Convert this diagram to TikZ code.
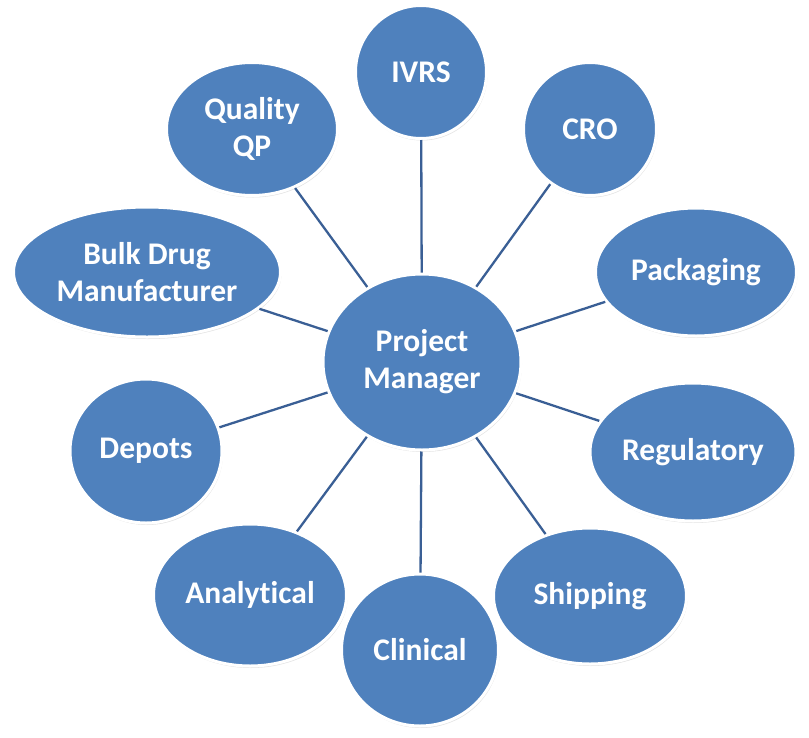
\documentclass[tikz,border=0pt]{standalone}
\usepackage{fontspec}
\setmainfont{Carlito}[Ligatures=NoCommon]
\usepackage{tikz}
\usetikzlibrary{shapes.geometric, shadows}
\definecolor{bubble}{HTML}{4F81BD}
\definecolor{spoke}{HTML}{3A5F95}
\definecolor{rim}{HTML}{FFFFFF}
\tikzset{
  bub/.style={ellipse, fill=bubble, draw=rim, line width=3pt, inner sep=0pt,
              align=center, text=white, font=\fontsize{31.5}{37}\selectfont\bfseries,
              drop shadow={opacity=0.22, shadow xshift=1pt, shadow yshift=-2pt}},
  link/.style={draw=spoke, line width=2.3pt},
}

\begin{document}
\begin{tikzpicture}[x=1pt, y=-1pt]
  \useasboundingbox (0,0) rectangle (809,737);
  \node[bub, minimum width=198pt, minimum height=176pt] (pm) at (422,362) {Project\\Manager};
  \node[bub, minimum width=131pt, minimum height=133pt] (ivrs) at (421,72) {IVRS};
  \node[bub, minimum width=133pt, minimum height=133pt] (cro) at (590,129) {CRO};
  \node[bub, minimum width=201pt, minimum height=128pt] (pack) at (696,272) {Packaging};
  \node[bub, minimum width=206pt, minimum height=138pt] (reg) at (693,452) {Regulatory};
  \node[bub, minimum width=193pt, minimum height=136pt] (ship) at (590,596) {Shipping};
  \node[bub, minimum width=193pt, minimum height=142pt] (analyt) at (250,595) {Analytical};
  \node[bub, minimum width=152pt, minimum height=144pt] (depots) at (146,451) {Depots};
  \node[bub, minimum width=267pt, minimum height=130pt] (bulk) at (147,272) {Bulk Drug\\Manufacturer};
  \node[bub, minimum width=171pt, minimum height=133pt] (quality) at (252,129) {Quality\\QP};
  \node[bub, minimum width=157pt, minimum height=152pt] (clin) at (420,650) {Clinical};

  \draw[link] (pm) -- (ivrs);
  \draw[link] (pm) -- (cro);
  \draw[link] (pm) -- (pack);
  \draw[link] (pm) -- (reg);
  \draw[link] (pm) -- (ship);
  \draw[link] (pm) -- (clin);
  \draw[link] (pm) -- (analyt);
  \draw[link] (pm) -- (depots);
  \draw[link] (pm) -- (bulk);
  \draw[link] (pm) -- (quality);
\end{tikzpicture}
\end{document}
